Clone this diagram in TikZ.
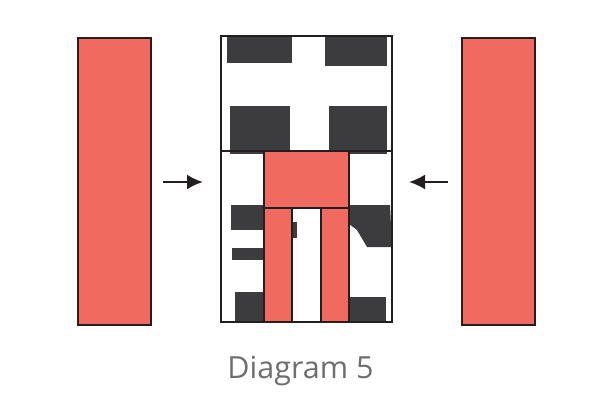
\documentclass[tikz,border=0pt]{standalone}
\usepackage{fontspec}
\newfontfamily\capfont{Open Sans}
\usetikzlibrary{positioning, arrows.meta}
\definecolor{brick}{HTML}{F16A5F}
\definecolor{ink}{HTML}{3C3C3E}
\definecolor{edge}{HTML}{231F20}
\definecolor{capgray}{HTML}{6D6E70}
\tikzset{
  strip/.style={draw=edge, fill=brick, line width=1.6pt, inner sep=0pt,
    minimum width=73pt, minimum height=287pt},
  patch/.style={fill=ink},
  cut/.style={draw=edge, fill=brick, line width=1.3pt},
  frame/.style={draw=edge, line width=1.5pt},
  push/.style={-{Latex[length=16pt, width=15pt]}, line width=2.2pt, draw=edge}
}

\begin{document}
\begin{tikzpicture}[x=1pt, y=-1pt]
\useasboundingbox (0,0) rectangle (612,409);
\node[strip] (leftbar) at (114.5,181.5) {};
\node[strip] (rightbar) at (498.5,181.5) {};
\node[inner sep=0pt, minimum width=171pt, minimum height=286pt, fill=white] (panel) at (306.5,179) {};

% dark blocks of the quilt
\fill[patch] (227,36) rectangle (292,63);
\fill[patch] (325,36) rectangle (387,66);
\fill[patch] (230,106) rectangle (290,154);
\fill[patch] (329,106) rectangle (387,154);
\fill[patch] (231,205) rectangle (264,230);
\fill[patch] (232,248) rectangle (264,260);
\fill[patch] (235,292) rectangle (264,322);
\fill[patch] (292,222) rectangle (297,238);
\fill[patch] (349,205) -- (390,205) -- (392,247) -- (367,247) -- (357,230) -- (349,224) -- cycle;
\fill[patch] (349,297) rectangle (386,322);

% new red pieces
\draw[cut] (264,151) rectangle (349,208);
\draw[cut] (264,208) rectangle (292,322);
\draw[cut] (321,208) rectangle (349,322);

\draw[frame] (panel.north west) rectangle (panel.south east);
\draw[frame] (panel.north west |- 0,151) -- (panel.north east |- 0,151);

\coordinate (la) at (163,182);
\coordinate (lb) at (203,182);
\coordinate (ra) at (448,182);
\coordinate (rb) at (409,182);
\draw[push] (la) -- (lb);
\draw[push] (ra) -- (rb);

\node[anchor=base, text=capgray, font=\capfont\fontsize{30.5}{36}\selectfont] (caption) at (300.5,378) {Diagram 5};
\end{tikzpicture}
\end{document}
